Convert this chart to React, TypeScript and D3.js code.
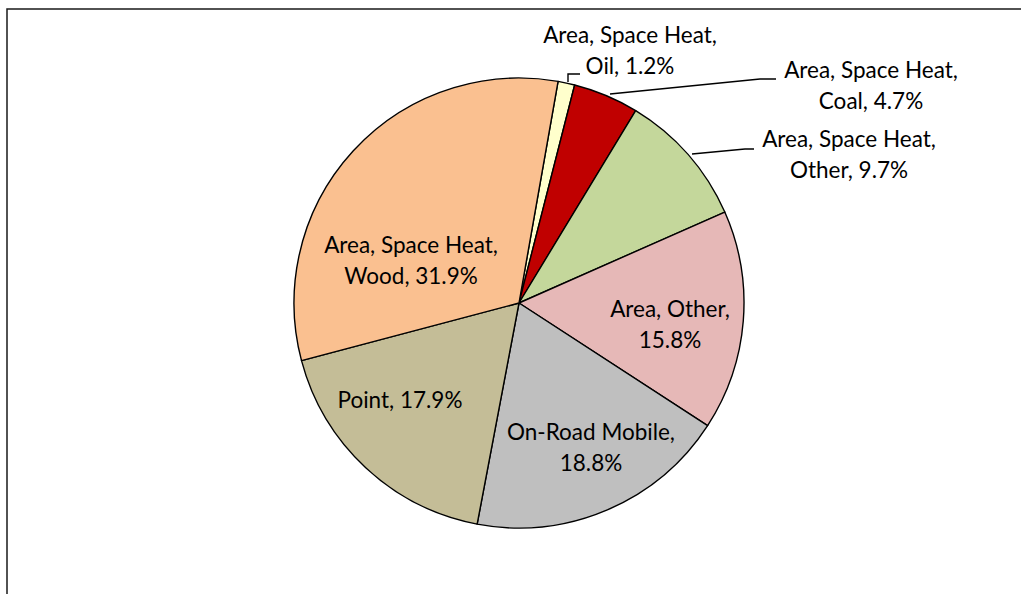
import React from 'react'
import * as d3 from 'd3'

const categories = [
    'Area, Space Heat, Oil',
    'Area, Space Heat, Coal',
    'Area, Space Heat, Other',
    'Area, Other',
    'On-Road Mobile',
    'Point',
    'Area, Space Heat, Wood',
]
const shares = [1.2, 4.7, 9.7, 15.8, 18.8, 17.9, 31.9]
const labelLines = [
    ['Area, Space Heat,', 'Oil, 1.2%'],
    ['Area, Space Heat,', 'Coal, 4.7%'],
    ['Area, Space Heat,', 'Other, 9.7%'],
    ['Area, Other,', '15.8%'],
    ['On-Road Mobile,', '18.8%'],
    ['Point, 17.9%'],
    ['Area, Space Heat,', 'Wood, 31.9%'],
]
const colors = ['#FFFFCC', '#C00000', '#C4D79B', '#E6B8B7', '#BFBFBF', '#C4BD97', '#FAC090']

// where each label block sits (center x, first baseline y); outside labels get a leader
const labelLayout = [
    { x: 630, y: 43, leader: [[568, 82], [568, 74], [580, 74]] },
    { x: 871, y: 78, leader: [[610, 94], [760, 79], [776, 79]] },
    { x: 849, y: 147, leader: [[692, 154], [745, 149], [754, 149]] },
    { x: 670, y: 317 },
    { x: 591, y: 440 },
    { x: 400, y: 408 },
    { x: 411, y: 253 },
]

const W = 1021
const H = 594
const cx = 519
const cy = 303
const radius = 225
const startDeg = 10

export default function App() {
    const pie = d3.pie<number>()
        .sort(null)
        .value(d => d)
        .startAngle(startDeg * Math.PI / 180)
        .endAngle(startDeg * Math.PI / 180 + 2 * Math.PI)
    const arcs = pie(shares)
    const arc = d3.arc<d3.PieArcDatum<number>>().innerRadius(0).outerRadius(radius)
    const line = d3.line()

    return (
        <div style={{ position: 'absolute', left: 0, top: 0 }}>
            <svg width={W} height={H} style={{ display: 'block' }}>
                <rect x={0} y={0} width={W} height={H} fill="#fff" />
                <rect x={7} y={9} width={W + 20} height={H + 20} fill="none" stroke="#1a1a1a" strokeWidth={1.5} />
                <g transform={`translate(${cx},${cy})`}>
                    {arcs.map((a, i) => (
                        <path key={categories[i]} d={arc(a) || ''} fill={colors[i]} stroke="#000" strokeWidth={1.4} strokeLinejoin="round" />
                    ))}
                </g>
                {labelLayout.map((l, i) => l.leader ? (
                    <path key={'ld' + i} d={line(l.leader as [number, number][]) || ''} fill="none" stroke="#000" strokeWidth={1.4} />
                ) : null)}
                <g fontFamily="Lato, 'Open Sans', sans-serif" fontSize={22.5} fill="#000" textAnchor="middle">
                    {labelLines.map((lines, i) => (
                        <text key={'t' + i} x={labelLayout[i].x} y={labelLayout[i].y}>
                            {lines.map((s, j) => (
                                <tspan key={j} x={labelLayout[i].x} dy={j === 0 ? 0 : 31}>{s}</tspan>
                            ))}
                        </text>
                    ))}
                </g>
            </svg>
        </div>
    )
}
